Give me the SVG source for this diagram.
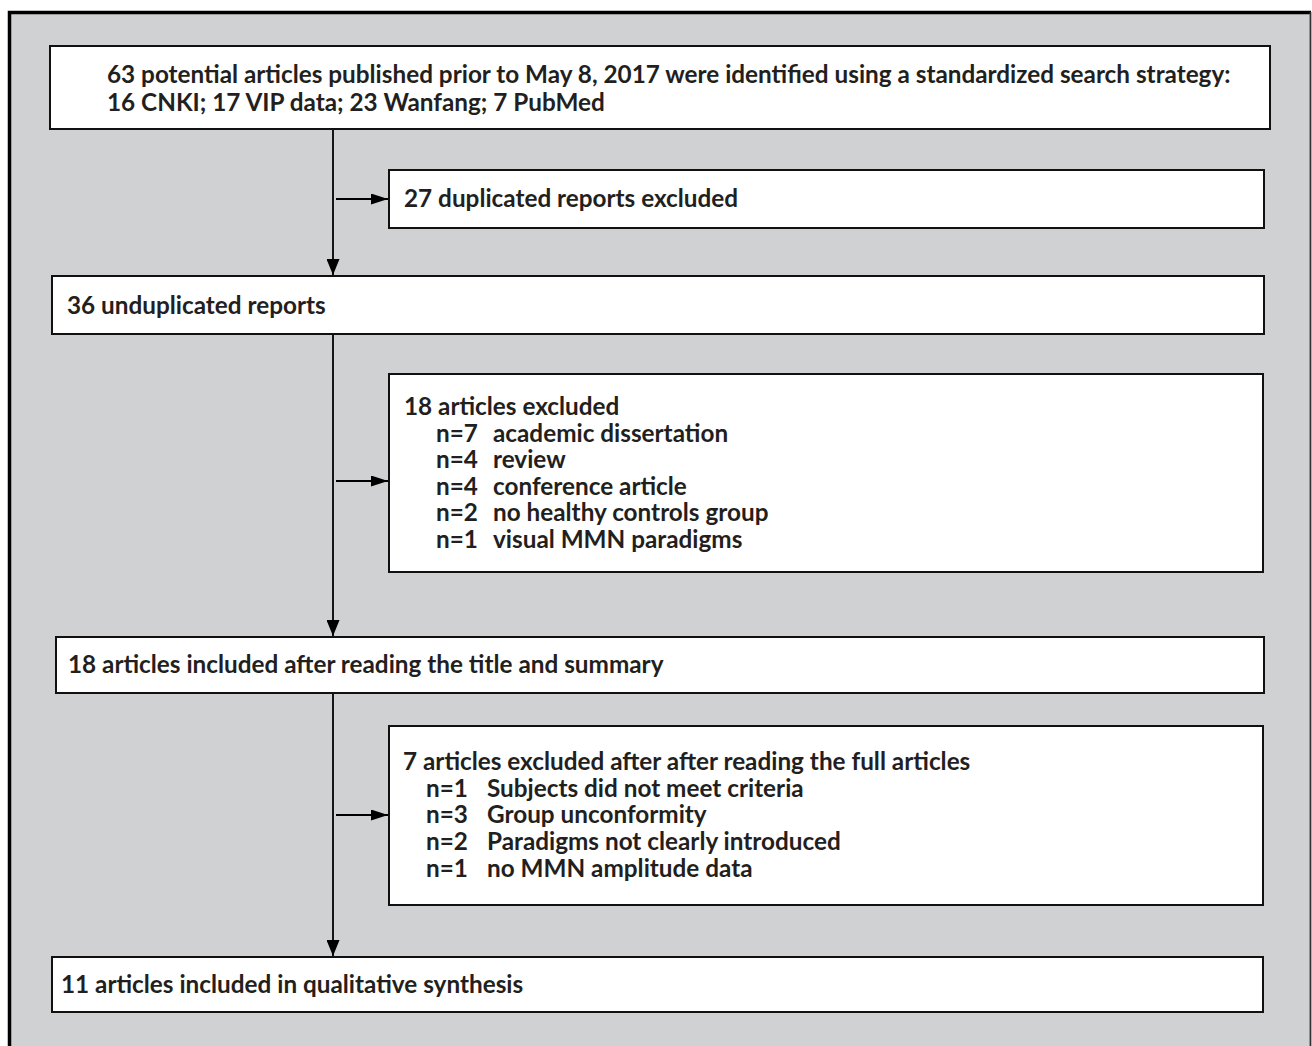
<svg xmlns="http://www.w3.org/2000/svg" width="1312" height="1046" viewBox="0 0 1312 1046">
<style>
.box{fill:#ffffff;stroke:#111111;stroke-width:2}
.t{font-family:Lato,"Liberation Sans",sans-serif;font-weight:bold;font-size:24.3px;fill:#231f20}
.conn{stroke:#000000;stroke-width:1.8;fill:none}
</style>
<defs>
<marker id="ahv" markerUnits="userSpaceOnUse" markerWidth="16" markerHeight="13" refX="16" refY="6.5" orient="auto">
<path d="M0,0 L16,6.5 L0,13 z" fill="#000000"/>
</marker>
<marker id="ahh" markerUnits="userSpaceOnUse" markerWidth="17" markerHeight="11" refX="17" refY="5.5" orient="auto">
<path d="M0,0 L17,5.5 L0,11 z" fill="#000000"/>
</marker>
</defs>
<rect x="9" y="12" width="1302" height="1040" fill="#d0d1d3"/>
<path d="M9.5,1046 L9.5,12.5 L1311,12.5" fill="none" stroke="#000000" stroke-width="3.5"/>
<line x1="1310.5" y1="12" x2="1310.5" y2="1046" stroke="#333333" stroke-width="1.8"/>

<g id="connectors">
<line class="conn" x1="333" y1="130" x2="333" y2="275" marker-end="url(#ahv)"/>
<line class="conn" x1="336" y1="199" x2="388" y2="199" marker-end="url(#ahh)"/>
<line class="conn" x1="333" y1="335" x2="333" y2="636" marker-end="url(#ahv)"/>
<line class="conn" x1="336" y1="481" x2="388" y2="481" marker-end="url(#ahh)"/>
<line class="conn" x1="333" y1="693" x2="333" y2="956" marker-end="url(#ahv)"/>
<line class="conn" x1="336" y1="815" x2="388" y2="815" marker-end="url(#ahh)"/>
</g>

<g id="n1">
<rect class="box" x="50" y="46" width="1220" height="83"/>
<text class="t" x="107" y="82.5">63 potential articles published prior to May 8, 2017 were identified using a standardized search strategy:</text>
<text class="t" x="107" y="111">16 CNKI; 17 VIP data; 23 Wanfang; 7 PubMed</text>
</g>
<g id="n2">
<rect class="box" x="389" y="170" width="875" height="58"/>
<text class="t" x="404" y="207">27 duplicated reports excluded</text>
</g>
<g id="n3">
<rect class="box" x="52" y="276" width="1212" height="58"/>
<text class="t" x="67" y="314">36 unduplicated reports</text>
</g>
<g id="n4">
<rect class="box" x="389" y="374" width="874" height="198"/>
<text class="t"><tspan x="404" y="415">18 articles excluded</tspan><tspan x="436" y="441.6">n=7</tspan><tspan x="493" y="441.6">academic dissertation</tspan><tspan x="436" y="468.2">n=4</tspan><tspan x="493" y="468.2">review</tspan><tspan x="436" y="494.8">n=4</tspan><tspan x="493" y="494.8">conference article</tspan><tspan x="436" y="521.4">n=2</tspan><tspan x="493" y="521.4">no healthy controls group</tspan><tspan x="436" y="548">n=1</tspan><tspan x="493" y="548">visual MMN paradigms</tspan></text>
</g>
<g id="n5">
<rect class="box" x="56" y="637" width="1208" height="56"/>
<text class="t" x="68" y="673">18 articles included after reading the title and summary</text>
</g>
<g id="n6">
<rect class="box" x="389" y="726" width="874" height="179"/>
<text class="t"><tspan x="403" y="770">7 articles excluded after after reading the full articles</tspan><tspan x="426" y="796.7">n=1</tspan><tspan x="487" y="796.7">Subjects did not meet criteria</tspan><tspan x="426" y="823.4">n=3</tspan><tspan x="487" y="823.4">Group unconformity</tspan><tspan x="426" y="850.1">n=2</tspan><tspan x="487" y="850.1">Paradigms not clearly introduced</tspan><tspan x="426" y="876.8">n=1</tspan><tspan x="487" y="876.8">no MMN amplitude data</tspan></text>
</g>
<g id="n7">
<rect class="box" x="52" y="957" width="1211" height="55"/>
<text class="t" x="61" y="993">11 articles included in qualitative synthesis</text>
</g>
</svg>
